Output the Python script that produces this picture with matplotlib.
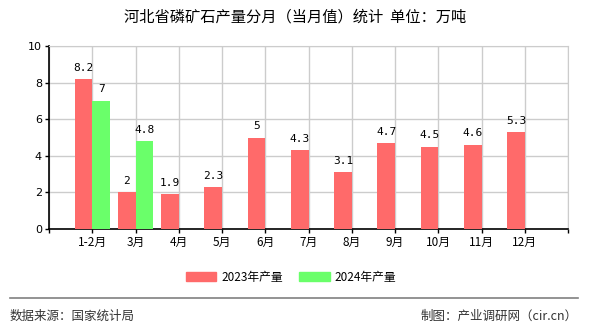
import matplotlib
matplotlib.use("Agg")
import matplotlib.pyplot as plt
from matplotlib.patches import Patch
from matplotlib.lines import Line2D
import numpy as np

plt.rcParams['font.family'] = ['Noto Sans CJK SC', 'DejaVu Sans']

months = ['1-2月', '3月', '4月', '5月', '6月', '7月', '8月', '9月', '10月', '11月', '12月']
prod_2023 = [8.2, 2, 1.9, 2.3, 5, 4.3, 3.1, 4.7, 4.5, 4.6, 5.3]
prod_2024 = [7, 4.8]
yticks = [0, 2, 4, 6, 8, 10]

red = '#ff6a6a'
green = '#6aff6a'

fig = plt.figure(figsize=(5.9, 3.3), dpi=100)
ax = fig.add_axes([49/590, 1-229/330, 519/590, 183/330])

x = np.arange(1, len(months) + 1)
w = 0.41
ax.bar(x - w/2, prod_2023, width=w, color=red, zorder=3)
ax.bar(x[:len(prod_2024)] + w/2, prod_2024, width=w, color=green, zorder=3)

for xi, v in zip(x, prod_2023):
    ax.text(xi - w/2, v + 0.35, f'{v:g}', ha='center', va='bottom',
            fontsize=8, family='DejaVu Sans Mono')
for xi, v in zip(x, prod_2024):
    ax.text(xi + w/2, v + 0.35, f'{v:g}', ha='center', va='bottom',
            fontsize=8, family='DejaVu Sans Mono')

ax.set_xlim(0, 12)
ax.set_ylim(0, 10)
ax.set_yticks(yticks)
ax.set_yticklabels([str(t) for t in yticks], fontsize=8, family='DejaVu Sans')
ax.set_xticks(range(0, 13))
ax.set_xticklabels([''] + months + [''], fontsize=8.5)
ax.tick_params(axis='both', length=3, width=1, color='black', pad=2)
ax.grid(True, color='#cccccc', linewidth=1, zorder=0)
ax.set_axisbelow(True)
for s in ['top', 'right']:
    ax.spines[s].set_color('#cccccc')
for s in ['left', 'bottom']:
    ax.spines[s].set_color('black')
    ax.spines[s].set_linewidth(1.2)

fig.text(0.5, 1-17/330, '河北省磷矿石产量分月（当月值）统计  单位：万吨',
         ha='center', va='center', fontsize=11)

handles = [Patch(color=red, label='2023年产量'), Patch(color=green, label='2024年产量')]
fig.legend(handles=handles, loc='center', bbox_to_anchor=(291/590, 1-277/330),
           ncol=2, frameon=False, fontsize=8.5, handlelength=2.6, handleheight=0.9,
           columnspacing=1.4, handletextpad=0.4)

fig.add_artist(Line2D([10/590, 578/590], [1-298/330, 1-298/330],
                      color='#808080', linewidth=1.2))
fig.text(10/590, 1-316/330, '数据来源：国家统计局', ha='left', va='center',
         fontsize=9, color='#333333')
fig.text(578/590, 1-316/330, '制图：产业调研网（cir.cn）', ha='right', va='center',
         fontsize=9, color='#333333')

fig.savefig('out.png', dpi=100)
